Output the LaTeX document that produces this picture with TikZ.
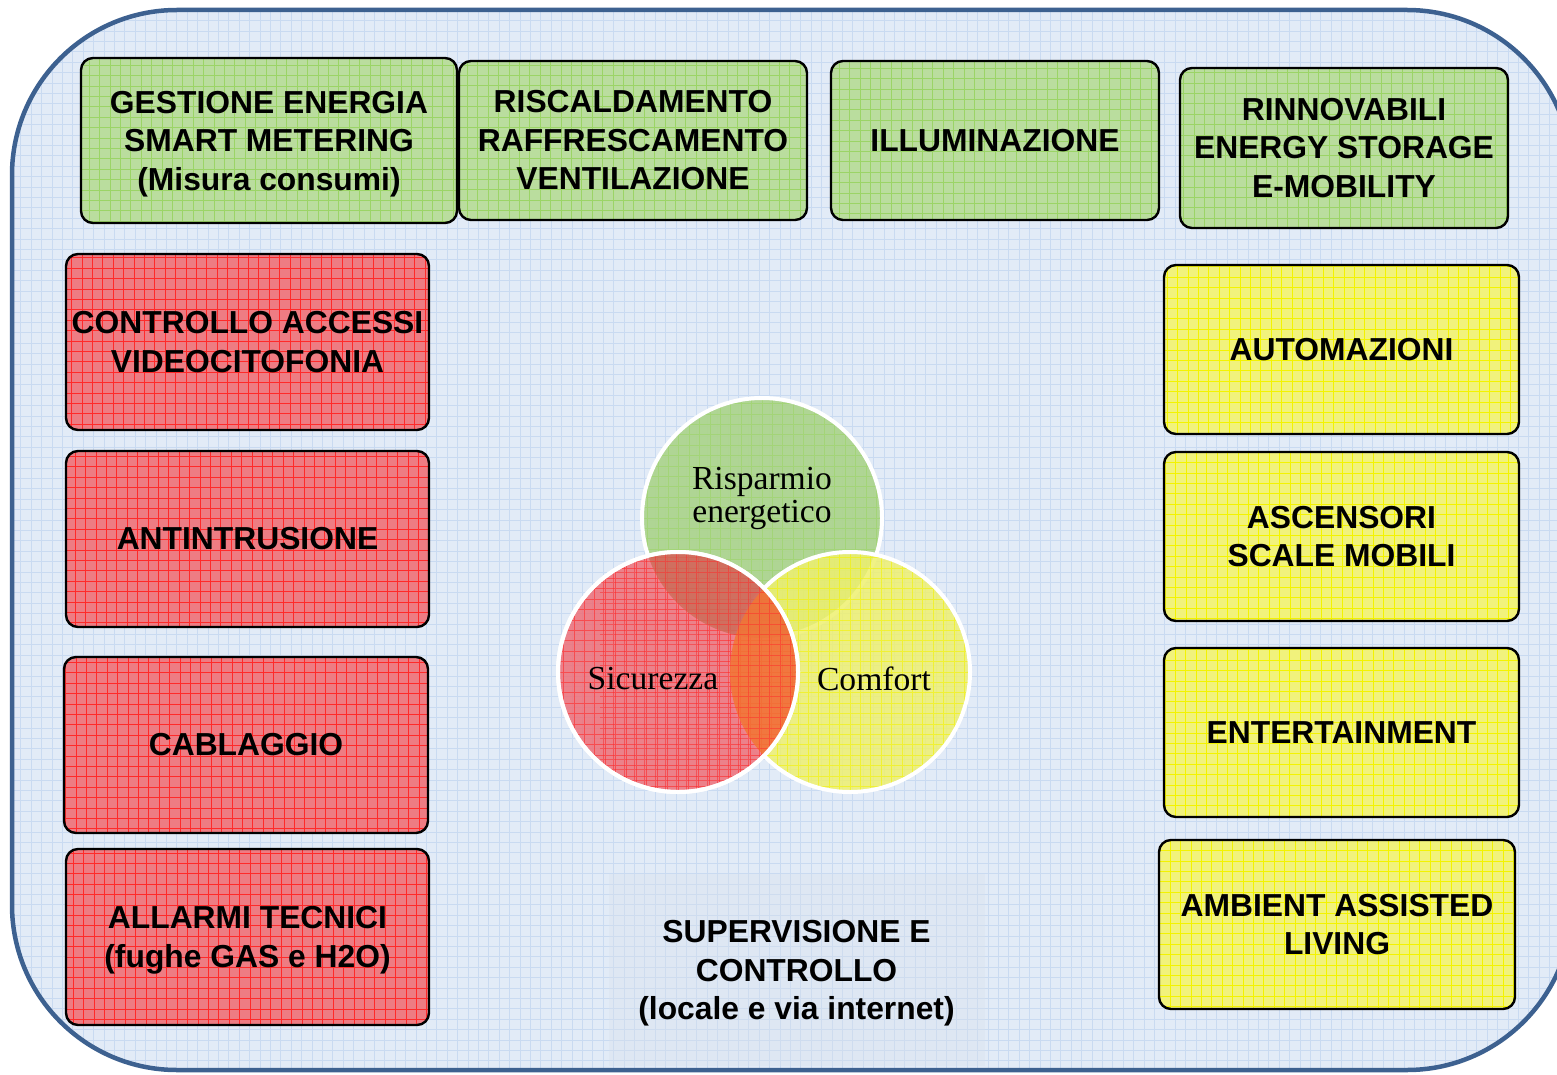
\documentclass[tikz,border=0pt]{standalone}
\usepackage{fontspec}
\newfontfamily\sansf{Liberation Sans}
\newfontfamily\seriff{Liberation Serif}
\definecolor{bgblue}{HTML}{E2EBF7}
\definecolor{bggrid}{HTML}{C9DAF1}
\definecolor{framecol}{HTML}{3D6190}
\definecolor{gfill}{HTML}{BADD9E}
\definecolor{ggrid}{HTML}{9BD466}
\definecolor{rfill}{HTML}{EE7C83}
\definecolor{rgrid}{HTML}{FF2A2A}
\definecolor{yfill}{HTML}{F1F27C}
\definecolor{ygrid}{HTML}{F3F300}
\definecolor{cgreen}{HTML}{ADD48F}
\definecolor{cred}{HTML}{EE6F78}
\definecolor{cyellow}{HTML}{EEF070}
\definecolor{corange}{HTML}{F27635}
\definecolor{cbrown}{HTML}{CC6C58}
\definecolor{supfill}{HTML}{D8E1EC}
\begin{document}
\begin{tikzpicture}[x=0.5pt,y=-0.5pt,
  boxtext/.style={font=\sansf\bfseries\fontsize{15.9pt}{19.25pt}\selectfont, align=center},
  bx/.style n args={4}{draw=black, line width=1.2pt, rounded corners=6pt, fill=#1,
    inner sep=0pt, boxtext, minimum width=#3*0.5pt, minimum height=#4*0.5pt,
    path picture={\draw[#2, line width=0.45pt, step=5.2pt]
      (path picture bounding box.south west) grid (path picture bounding box.north east);}},
  venn/.style n args={3}{circle, minimum size=120pt, inner sep=0pt, fill=#1, fill opacity=#3,
    draw=white, line width=2pt,
    path picture={\draw[#2, line width=0.45pt, step=5.2pt, opacity=0.6]
      (path picture bounding box.south west) grid (path picture bounding box.north east);}},
  circtext/.style={font=\seriff\fontsize{16.8pt}{16.5pt}\selectfont, align=center, text=black}
]
\useasboundingbox (0,0) rectangle (1557,1075);
\clip (0,0) rectangle (1557,1075);
% background frame
\path[fill=bgblue, rounded corners=82.5pt] (12,10) rectangle (1572,1070);
\begin{scope}
  \clip[rounded corners=82.5pt] (12,10) rectangle (1572,1070);
  \draw[bggrid, line width=0.5pt, step=5.2pt] (0,1100) grid (1600,0);
\end{scope}
\draw[framecol, line width=2.25pt, rounded corners=82.5pt] (12,10) rectangle (1572,1070);

% top green boxes
\node[bx={gfill}{ggrid}{376}{165}, text depth=0pt] (g1) at (269,140.5) {GESTIONE ENERGIA\\SMART METERING\\(Misura consumi)};
\node[bx={gfill}{ggrid}{348}{159}] (g2) at (633,140.5) {RISCALDAMENTO\\RAFFRESCAMENTO\\VENTILAZIONE};
\node[bx={gfill}{ggrid}{328}{159}] (g3) at (995,140.5) {ILLUMINAZIONE};
\node[bx={gfill}{ggrid}{328}{160}] (g4) at (1344,148) {RINNOVABILI\\ENERGY STORAGE\\E-MOBILITY};

% left red boxes
\node[bx={rfill}{rgrid}{363}{176}] (r1) at (247.5,342) {CONTROLLO ACCESSI\\VIDEOCITOFONIA};
\node[bx={rfill}{rgrid}{363}{176}] (r2) at (247.5,539) {ANTINTRUSIONE};
\node[bx={rfill}{rgrid}{364}{176}] (r3) at (246,745) {CABLAGGIO};
\node[bx={rfill}{rgrid}{363}{176}, text depth=0pt] (r4) at (247.5,937) {ALLARMI TECNICI\\(fughe GAS e H2O)};

% right yellow boxes
\node[bx={yfill}{ygrid}{355}{169}] (y1) at (1341.5,349.5) {AUTOMAZIONI};
\node[bx={yfill}{ygrid}{355}{169}] (y2) at (1341.5,536.5) {ASCENSORI\\SCALE MOBILI};
\node[bx={yfill}{ygrid}{355}{169}] (y3) at (1341.5,732.5) {ENTERTAINMENT};
\node[bx={yfill}{ygrid}{356}{169}] (y4) at (1337,924.5) {AMBIENT ASSISTED\\LIVING};

% supervision
\node[fill=supfill, fill opacity=0.35, text opacity=1, inner sep=0pt, text depth=0pt,
      minimum width=188pt, minimum height=96pt, boxtext] (sup) at (796.5,970)
  {SUPERVISIONE E\\CONTROLLO\\(locale e via internet)};

% Venn circles
\node[venn={cgreen}{ggrid}{0.95}] (cG) at (762,518) {};
\node[venn={cyellow}{ygrid}{0.85}] (cY) at (850,672) {};
\node[venn={cred}{rgrid}{0.85}] (cR) at (678,672) {};
\begin{scope}
  \clip (cR.center) circle [radius=60pt];
  \fill[cbrown, fill opacity=0.8] (cG.center) circle [radius=60pt];
  \fill[corange, fill opacity=0.85] (cY.center) circle [radius=60pt];
  \draw[rgrid, line width=0.45pt, step=5.2pt, opacity=0.5] (600,800) grid (860,540);
\end{scope}
\draw[white, line width=2pt] (cR.center) circle [radius=60pt];

\node[circtext] (tG) at (762,498) {Risparmio\\energetico};
\node[circtext] (tR) at (653,679) {Sicurezza};
\node[circtext] (tY) at (874,679) {Comfort};
\end{tikzpicture}
\end{document}
